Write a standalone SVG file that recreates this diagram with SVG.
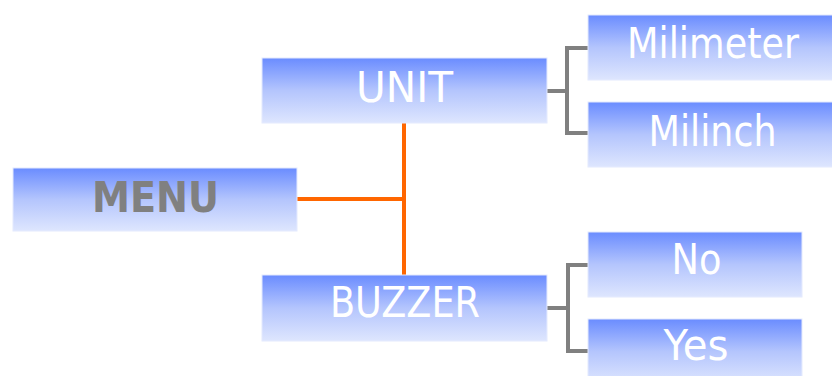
<svg xmlns="http://www.w3.org/2000/svg" width="832" height="376" viewBox="0 0 832 376">
  <defs>
    <linearGradient id="g" x1="0" y1="0" x2="0" y2="1">
      <stop offset="0" stop-color="#6A8CFF"/>
      <stop offset="0.5" stop-color="#B4C5FD"/>
      <stop offset="1" stop-color="#DEE6FE"/>
    </linearGradient>
  </defs>
  <style>
    .box { fill: url(#g); stroke: #E4EAFE; stroke-width: 1; }
    .lbl { font-family: "DejaVu Sans", "Liberation Sans", sans-serif; font-size: 42px; fill: #FFFFFF; text-anchor: middle; }
    .menu { font-family: "DejaVu Sans", "Liberation Sans", sans-serif; font-size: 42px; font-weight: bold; fill: #808080; text-anchor: middle; }
    .org { stroke: #FF6600; stroke-width: 4; fill: none; }
    .gry { stroke: #808080; stroke-width: 4; fill: none; }
  </style>
  <rect width="832" height="376" fill="#FFFFFF"/>
  <g id="connectors">
    <path class="org" d="M297 199 H404 M404 123 V275"/>
    <path class="gry" d="M547 91 H567 M588 48 H567 V133 H588"/>
    <path class="gry" d="M547 308 H568 M588 265 H568 V351 H588"/>
  </g>
  <g id="menu">
    <rect class="box" x="13" y="168" width="284" height="63"/>
    <text class="menu" x="155.5" y="212" textLength="127" lengthAdjust="spacingAndGlyphs">MENU</text>
  </g>
  <g id="unit">
    <rect class="box" x="262" y="58" width="285" height="65"/>
    <text class="lbl" x="404.5" y="102" textLength="97" lengthAdjust="spacingAndGlyphs">UNIT</text>
  </g>
  <g id="buzzer">
    <rect class="box" x="262" y="275" width="285" height="66"/>
    <text class="lbl" x="405" y="317" textLength="150" lengthAdjust="spacingAndGlyphs">BUZZER</text>
  </g>
  <g id="milimeter">
    <rect class="box" x="588" y="15" width="250" height="65"/>
    <text class="lbl" x="713" y="58" textLength="172" lengthAdjust="spacingAndGlyphs">Milimeter</text>
  </g>
  <g id="milinch">
    <rect class="box" x="588" y="102" width="250" height="65"/>
    <text class="lbl" x="712.5" y="146" textLength="128" lengthAdjust="spacingAndGlyphs">Milinch</text>
  </g>
  <g id="no">
    <rect class="box" x="588" y="232" width="214" height="65"/>
    <text class="lbl" x="696.5" y="274" textLength="50" lengthAdjust="spacingAndGlyphs">No</text>
  </g>
  <g id="yes">
    <rect class="box" x="588" y="319" width="214" height="65"/>
    <text class="lbl" x="696" y="360" textLength="65" lengthAdjust="spacingAndGlyphs">Yes</text>
  </g>
</svg>
